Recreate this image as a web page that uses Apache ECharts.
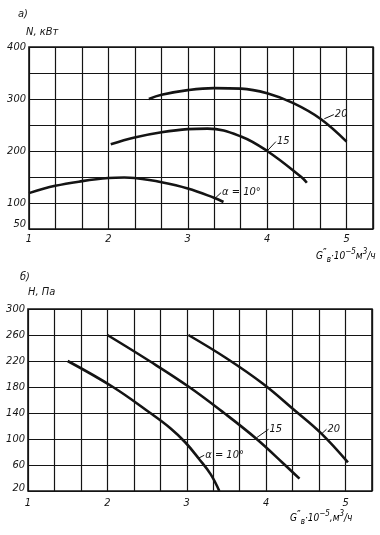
<!DOCTYPE html>
<html><head><meta charset="utf-8">
<script src="https://cdn.jsdelivr.net/npm/echarts@6/dist/echarts.min.js"></script>
<style>html,body{margin:0;padding:0;background:#fff}#c{width:380px;height:535px}</style>
</head><body><div id="c"></div>
<script>
// ---- data ----
const xTickLabels = [1, 2, 3, 4, 5];
const topYTickLabels = [50, 100, 200, 300, 400];
const botYTickLabels = [20, 60, 100, 140, 180, 220, 260, 300];

// a) N, kW vs G
const nAlpha10 = [[1.0,119],[1.33,133],[1.67,142],[2.0,148],[2.2,149],[2.33,148],[2.67,140],[3.0,128],[3.33,110],[3.45,102]];
const nAlpha15 = [[2.03,213],[2.33,226],[2.67,236],[3.0,242],[3.25,243],[3.67,228],[4.0,200],[4.43,150],[4.5,139]];
const nAlpha20 = [[2.51,300],[2.67,308],[3.0,317],[3.33,321],[3.67,320],[4.0,311],[4.33,292],[4.67,262],[5.0,218]];

// b) H, Pa vs G
const hAlpha10 = [[1.5,220],[2.07,180],[2.54,140],[2.79,117],[2.98,95],[3.15,70],[3.30,46],[3.41,20]];
const hAlpha15 = [[2.0,260],[2.53,220],[3.03,180],[3.47,140],[3.88,100],[4.22,62],[4.42,39]];
const hAlpha20 = [[3.02,260],[3.49,225],[3.96,185],[4.35,145],[4.69,109],[5.03,64]];

// curve labels: [text, labelAnchor, leaderStart]
const topLabels = [
  ['α = 10°', [3.42,120], [3.35,110]],
  ['15', [4.11,218], [4.0,200]],
  ['20', [4.84,270], [4.72,262]]
];
const botLabels = [
  ['α = 10°', [3.22,75], [3.14,70]],
  ['15', [4.03,115], [3.88,102]],
  ['20', [4.76,115], [4.69,107]]
];

// ---- chart ----
const FONT = 'DejaVu Sans Condensed, DejaVu Sans, sans-serif';
const INK = '#141414';
const chart = echarts.init(document.getElementById('c'), null, {renderer:'canvas'});

function near(v, list){ return list.find(t => Math.abs(t - v) < 1e-6); }

function xAxis(gi, margin){
  return {
    gridIndex: gi, type:'value', min:1, max:1+13/3, interval:1/3,
    axisLine:{show:false}, axisTick:{show:false},
    splitLine:{show:true, lineStyle:{color:INK, width:1.2}},
    axisLabel:{margin:margin, color:INK, fontSize:11, fontStyle:'italic', fontFamily:FONT,
      formatter: v => { const t = near(v, xTickLabels); return t === undefined ? '' : String(t); }},
    showMinLabel:true, showMaxLabel:false
  };
}
function yAxis(gi, min, max, interval, labels, lift){
  return {
    gridIndex: gi, type:'value', min:min, max:max, interval:interval,
    axisLine:{show:false}, axisTick:{show:false},
    splitLine:{show:true, lineStyle:{color:INK, width:1.2}},
    axisLabel:{margin:3, color:INK, fontSize:11, fontStyle:'italic', fontFamily:FONT,
      rich:{lo:{fontSize:11, fontStyle:'italic', fontFamily:FONT, color:INK, padding:[0,0,lift,0]}},
      formatter: v => { const t = near(v, labels); if (t === undefined) return '';
        return Math.abs(v - min) < 1e-6 ? '{lo|' + t + '}' : String(t); }}
  };
}
function curve(data, xi, yi){
  return {type:'line', xAxisIndex:xi, yAxisIndex:yi, data:data, smooth:0.4,
    symbol:'none', lineStyle:{color:INK, width:2.6}, silent:true, z:5};
}
function annotations(labels, xi, yi){
  return {type:'line', xAxisIndex:xi, yAxisIndex:yi, data:[], silent:true,
    markLine:{silent:true, symbol:['none','none'], label:{show:false},
      lineStyle:{color:INK, width:1, type:'solid'},
      data: labels.map(l => [{coord:l[2]}, {coord:l[1]}])},
    markPoint:{silent:true, symbol:'circle', symbolSize:0,
      label:{show:true, position:'right', distance:1, color:INK, fontSize:11, fontStyle:'italic', fontFamily:FONT,
        formatter: p => p.name},
      data: labels.map(l => ({name:l[0], coord:l[1]}))}
  };
}

const txt = {fill:INK, fontSize:11, fontStyle:'italic', fontFamily:FONT};
const rich = {
  m:{fontSize:10, fontStyle:'italic', fontFamily:FONT, color:INK, lineHeight:16, verticalAlign:'middle'},
  pr:{fontSize:10, fontFamily:'DejaVu Sans', color:INK, lineHeight:16, verticalAlign:'top'},
  sp:{fontSize:8, fontStyle:'italic', fontFamily:FONT, color:INK, lineHeight:16, verticalAlign:'top'},
  sb:{fontSize:8, fontStyle:'italic', fontFamily:FONT, color:INK, lineHeight:16, verticalAlign:'bottom'}
};

chart.setOption({
  backgroundColor:'#fff',
  animation:false,
  grid:[
    {left:29, top:47, right:7, height:182, show:true, borderColor:INK, borderWidth:1.6, containLabel:false},
    {left:28, top:309, right:8, height:182, show:true, borderColor:INK, borderWidth:1.6, containLabel:false}
  ],
  xAxis:[xAxis(0,5), xAxis(1,7)],
  yAxis:[yAxis(0,50,400,50,topYTickLabels,9), yAxis(1,20,300,40,botYTickLabels,5)],
  series:[
    curve(nAlpha10,0,0), curve(nAlpha15,0,0), curve(nAlpha20,0,0),
    curve(hAlpha10,1,1), curve(hAlpha15,1,1), curve(hAlpha20,1,1),
    annotations(topLabels,0,0), annotations(botLabels,1,1)
  ],
  graphic:[
    {type:'text', left:18, top:9, style:Object.assign({text:'а)'}, txt)},
    {type:'text', left:26, top:27, style:Object.assign({text:'N, кВт'}, txt)},
    {type:'text', left:316, top:248, style:{text:'{m|G}{pr|″}{sb|в}{m|·10}{sp|−5}{m|м}{sp|3}{m|/ч}', rich:rich}},
    {type:'text', left:20, top:272, style:Object.assign({text:'б)'}, txt)},
    {type:'text', left:290, top:510, style:{text:'{m|G}{pr|″}{sb|в}{m|·10}{sp|−5}{m|,м}{sp|3}{m|/ч}', rich:rich}}
  ].concat([
    {type:'text', left:28, top:287, style:Object.assign({text:'Н, Па'}, txt)}
  ])
});
</script></body></html>
